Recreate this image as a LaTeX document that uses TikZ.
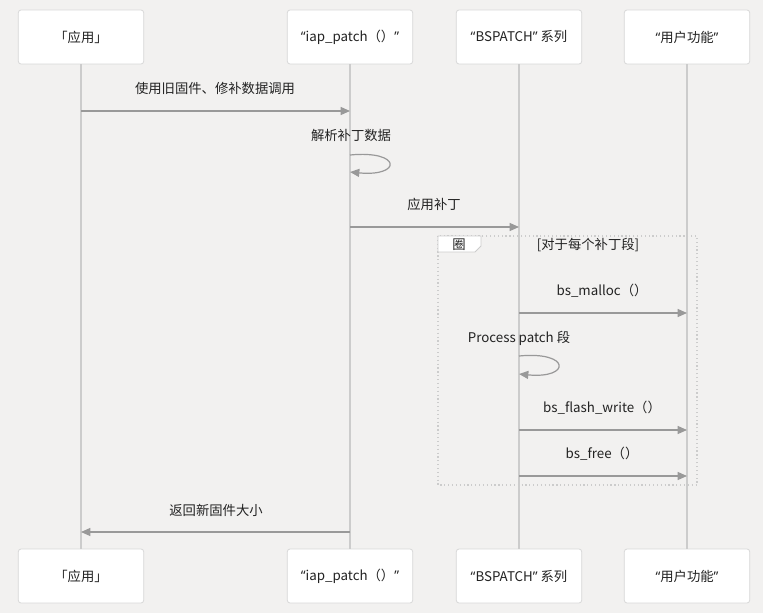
\documentclass[tikz,border=0pt]{standalone}
\usepackage{fontspec}
\setmainfont{Noto Sans CJK SC}
\newfontfamily\latinq{Noto Sans}
\usetikzlibrary{shapes,arrows.meta,positioning}
\definecolor{bgcol}{HTML}{F2F1F0}
\definecolor{boxline}{HTML}{D8D8D8}
\definecolor{lifecol}{HTML}{CCCCCC}
\definecolor{msgcol}{HTML}{999999}
\definecolor{txtcol}{HTML}{222222}
\newcommand{\oq}{{\latinq “}}
\newcommand{\cq}{{\latinq ”}}

\begin{document}
\begin{tikzpicture}[
            x=0.75pt, y=-0.75pt,
            font=\fontsize{10}{12}\selectfont, text=txtcol,
            actor/.style={rectangle, draw=boxline, fill=white, rounded corners=2pt, minimum width=94pt, minimum height=40.5pt, line width=0.6pt},
            life/.style={draw=lifecol, line width=1.4pt},
            msg/.style={-{Triangle[length=7pt,width=6pt]}, draw=msgcol, fill=msgcol, line width=0.9pt},
            lbl/.style={inner sep=1pt}
        ]
            \fill[bgcol] (0,0) rectangle (763,613);
            \useasboundingbox (0,0) rectangle (763,613);

            % participants
            \node[actor] (app) at (81,37) {「应用」};
            \node[actor] (iap) at (350,37) {\oq iap\_patch（）\cq};
            \node[actor] (bsp) at (519,37) {\oq BSPATCH\cq\ 系列};
            \node[actor] (usr) at (687,37) {\oq 用户功能\cq};
            \node[actor] (appb) at (81,576) {「应用」};
            \node[actor] (iapb) at (350,576) {\oq iap\_patch（）\cq};
            \node[actor] (bspb) at (519,576) {\oq BSPATCH\cq\ 系列};
            \node[actor] (usrb) at (687,576) {\oq 用户功能\cq};

            \draw[life] (app) -- (appb);
            \draw[life] (iap) -- (iapb);
            \draw[life] (bsp) -- (bspb);
            \draw[life] (usr) -- (usrb);

            % loop frame
            \draw[lifecol, dotted, line width=0.9pt] (438,236) rectangle (697,485);
            \draw[lifecol, fill=white, line width=0.6pt] (438,236) -- (481,236) -- (481,246) -- (475,252) -- (438,252) -- cycle;
            \node[lbl] (looptag) at (459,245) {圈};
            \node[lbl] (loopcond) at (588,245) {[对于每个补丁段]};

            % message end points
            \coordinate (m1a) at (81,111);   \coordinate (m1b) at (350,111);
            \coordinate (m2a) at (350,155);  \coordinate (m2b) at (350,172);
            \coordinate (m3a) at (350,227);  \coordinate (m3b) at (519,227);
            \coordinate (m4a) at (519,313);  \coordinate (m4b) at (687,313);
            \coordinate (m5a) at (519,356);  \coordinate (m5b) at (519,374);
            \coordinate (m6a) at (519,430);  \coordinate (m6b) at (687,430);
            \coordinate (m7a) at (519,476);  \coordinate (m7b) at (687,476);
            \coordinate (m8a) at (350,532);  \coordinate (m8b) at (81,532);

            % messages
            \draw[msg] (m1a) -- (m1b);
            \node[lbl] (t1) at (215,88) {使用旧固件、修补数据调用};
            \draw[msg, fill=none] (m2a) .. controls (402,150) and (402,177) .. (m2b);
            \node[lbl] (t2) at (351,135) {解析补丁数据};
            \draw[msg] (m3a) -- (m3b);
            \node[lbl] (t3) at (434,204) {应用补丁};
            \draw[msg] (m4a) -- (m4b);
            \node[lbl] (t4) at (602,291) {bs\_malloc（）};
            \draw[msg, fill=none] (m5a) .. controls (571,351) and (571,379) .. (m5b);
            \node[lbl] (t5) at (519,338) {Process patch 段};
            \draw[msg] (m6a) -- (m6b);
            \node[lbl] (t6) at (602,408) {bs\_flash\_write（）};
            \draw[msg] (m7a) -- (m7b);
            \node[lbl] (t7) at (602,454) {bs\_free（）};
            \draw[msg] (m8a) -- (m8b);
            \node[lbl] (t8) at (216,510) {返回新固件大小};
        \end{tikzpicture}
\end{document}
